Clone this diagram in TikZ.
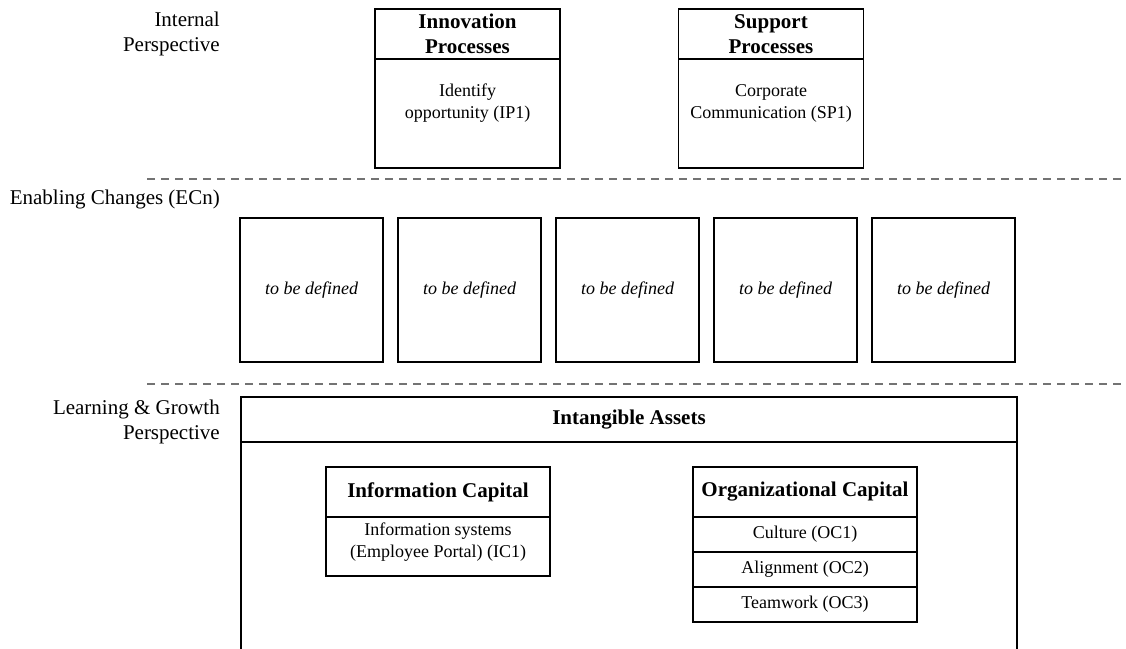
\documentclass[tikz,border=0pt]{standalone}
\usepackage{fontspec}
\setmainfont{Liberation Serif}
\usetikzlibrary{positioning}

\begin{document}
\begin{tikzpicture}[x=1pt, y=-1pt]
\tikzstyle{head}=[rectangle, draw=black, line width=1.6pt, outer sep=0pt, inner sep=0pt, align=center, font=\fontsize{21}{25}\selectfont\bfseries]
\tikzstyle{body}=[rectangle, draw=black, line width=1.6pt, outer sep=0pt, inner sep=0pt, align=center, font=\fontsize{18}{22}\selectfont]
\tikzstyle{txt}=[align=center, inner sep=0pt, font=\fontsize{18}{22}\selectfont]
\tikzstyle{ecbox}=[body, minimum width=143pt, minimum height=144pt, font=\fontsize{18}{22}\selectfont\itshape]
\tikzstyle{row}=[body, minimum width=224pt, minimum height=35pt]
\tikzstyle{side}=[align=right, anchor=east, inner sep=0pt, font=\fontsize{21}{25}\selectfont]
\tikzstyle{sep}=[draw=black!55, line width=1.6pt, dash pattern=on 8pt off 6pt]
\useasboundingbox (0,0) rectangle (1126,648);
  % side labels
  \node[side] (intlabel) at (220,33.5) {Internal\\Perspective};
  \node[side] (eclabel) at (220,199) {Enabling Changes (ECn)};
  \node[side] (lglabel) at (220,421.5) {Learning \& Growth\\Perspective};
  % internal perspective
  \node[head, minimum width=185pt, minimum height=50pt] (innohead) at (467.5,34) {Innovation\\Processes};
  \node[body, minimum width=185pt, minimum height=109pt] (innobody) [below=0pt of innohead] {};
  \node[txt] (innotext) at ([yshift=10pt]innobody.center) {Identify\\opportunity (IP1)};
  \node[head, minimum width=185pt, minimum height=50pt] (supphead) at (771,34) {Support\\Processes};
  \node[body, minimum width=185pt, minimum height=109pt] (suppbody) [below=0pt of supphead] {};
  \node[txt] (supptext) at ([yshift=10pt]suppbody.center) {Corporate\\Communication (SP1)};
  % separators
  \coordinate (sepa1) at (147,179);
  \coordinate (sepa2) at (1126,179);
  \coordinate (sepb1) at (147,384);
  \coordinate (sepb2) at (1126,384);
  \draw[sep] (sepa1) -- (sepa2);
  \draw[sep] (sepb1) -- (sepb2);
  % enabling changes
  \node[ecbox] (ec1) at (311.5,290) {to be defined};
  \node[ecbox] (ec2) [right=15pt of ec1] {to be defined};
  \node[ecbox] (ec3) [right=15pt of ec2] {to be defined};
  \node[ecbox] (ec4) [right=15pt of ec3] {to be defined};
  \node[ecbox] (ec5) [right=15pt of ec4] {to be defined};
  % learning & growth
  \node[head, minimum width=776pt, minimum height=45pt] (assethead) at (629,419.5) {Intangible Assets};
  \node[body, minimum width=776pt, minimum height=220pt] (assetbody) [below=0pt of assethead] {};
  \node[head, minimum width=224pt, minimum height=50pt] (infohead) at (438,492) {Information Capital};
  \node[body, minimum width=224pt, minimum height=59pt] (infobody) [below=0pt of infohead] {};
  \node[txt] (infotext) at ([yshift=4pt]infobody.center) {Information systems\\(Employee Portal) (IC1)};
  \node[head, minimum width=224pt, minimum height=50pt] (orghead) at (805,492) {Organizational Capital};
  \node[row] (oc1) [below=0pt of orghead] {Culture (OC1)};
  \node[row] (oc2) [below=0pt of oc1] {Alignment (OC2)};
  \node[row] (oc3) [below=0pt of oc2] {Teamwork (OC3)};
\end{tikzpicture}
\end{document}
